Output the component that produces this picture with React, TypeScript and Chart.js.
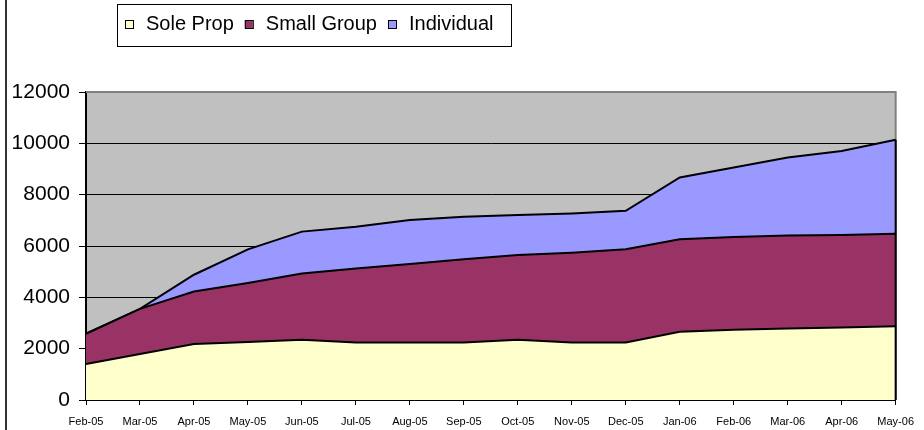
import React, { useEffect, useRef } from "react";
import { Chart, registerables } from "chart.js";

Chart.register(...registerables);

const months = [
  "Feb-05", "Mar-05", "Apr-05", "May-05", "Jun-05", "Jul-05", "Aug-05", "Sep-05",
  "Oct-05", "Nov-05", "Dec-05", "Jan-06", "Feb-06", "Mar-06", "Apr-06", "May-06",
];
const soleProp = [1400, 1790, 2180, 2260, 2350, 2240, 2240, 2240, 2350, 2240, 2240, 2660, 2740, 2790, 2820, 2870];
const smallGroup = [1180, 1760, 2050, 2300, 2580, 2880, 3060, 3240, 3300, 3500, 3630, 3600, 3610, 3620, 3610, 3610];
const individual = [0, 0, 650, 1310, 1630, 1630, 1710, 1660, 1560, 1530, 1500, 2410, 2710, 3040, 3270, 3660];
const yTickValues = [0, 2000, 4000, 6000, 8000, 10000, 12000];

const FONT = "Arial, 'Liberation Sans', sans-serif";

const plotPlugin = {
  id: "plotDecor",
  beforeDraw(chart: any) {
    const { ctx, chartArea } = chart;
    ctx.save();
    ctx.fillStyle = "#C0C0C0";
    ctx.fillRect(chartArea.left, chartArea.top, chartArea.right - chartArea.left, chartArea.bottom - chartArea.top);
    ctx.restore();
  },
  beforeDatasetsDraw(chart: any) {
    const { ctx, chartArea } = chart;
    ctx.save();
    ctx.strokeStyle = "#808080";
    ctx.lineWidth = 2;
    ctx.beginPath();
    ctx.moveTo(chartArea.left, chartArea.top);
    ctx.lineTo(chartArea.right, chartArea.top);
    ctx.lineTo(chartArea.right, chartArea.bottom);
    ctx.stroke();
    ctx.restore();
  },
  afterDatasetsDraw(chart: any) {
    const { ctx, chartArea, scales } = chart;
    const last = months.length - 1;
    const total = soleProp[last] + smallGroup[last] + individual[last];
    const x = scales.x.getPixelForValue(last);
    ctx.save();
    ctx.strokeStyle = "#000";
    ctx.lineWidth = 2;
    ctx.beginPath();
    ctx.moveTo(x, scales.y.getPixelForValue(total));
    ctx.lineTo(x, chartArea.bottom);
    ctx.stroke();
    ctx.restore();
  },
  afterDraw(chart: any) {
    const { ctx } = chart;
    ctx.save();
    ctx.fillStyle = "#333";
    ctx.fillRect(5, 0, 2, chart.height);
    ctx.strokeStyle = "#000";
    ctx.lineWidth = 1;
    ctx.strokeRect(117.5, 4.5, 394, 42);
    ctx.font = `20px ${FONT}`;
    ctx.textBaseline = "alphabetic";
    ctx.textAlign = "left";
    let x = 125;
    chart.data.datasets.forEach((ds: any) => {
      ctx.fillStyle = ds.backgroundColor;
      ctx.fillRect(x, 20, 8, 8);
      ctx.strokeStyle = "#000";
      ctx.lineWidth = 1;
      ctx.strokeRect(x + 0.5, 20.5, 8, 8);
      ctx.fillStyle = "#000";
      const tx = x + 21;
      ctx.fillText(ds.label, tx, 30);
      x = tx + ctx.measureText(ds.label).width + 11;
    });
    ctx.restore();
  },
};

export default function App() {
  const ref = useRef<HTMLCanvasElement | null>(null);
  useEffect(() => {
    if (!ref.current) return;
    const chart = new Chart(ref.current, {
      type: "line",
      data: {
        labels: months,
        datasets: [
          {
            label: "Sole Prop",
            data: soleProp,
            backgroundColor: "#FFFFCC",
            borderColor: "#000",
            borderWidth: 2,
            fill: "origin",
            pointRadius: 0,
            tension: 0,
          },
          {
            label: "Small Group",
            data: smallGroup,
            backgroundColor: "#993366",
            borderColor: "#000",
            borderWidth: 2,
            fill: "-1",
            pointRadius: 0,
            tension: 0,
          },
          {
            label: "Individual",
            data: individual,
            backgroundColor: "#9999FF",
            borderColor: "#000",
            borderWidth: 2,
            fill: "-1",
            pointRadius: 0,
            tension: 0,
          },
        ],
      },
      options: {
        responsive: false,
        animation: false,
        devicePixelRatio: 1,
        layout: { padding: { left: 0, right: 23, top: 92, bottom: 0 } },
        plugins: {
          legend: { display: false },
          tooltip: { enabled: false },
        },
        scales: {
          x: {
            offset: false,
            afterFit(scale: any) {
              scale.height = 30;
            },
            grid: {
              drawOnChartArea: false,
              drawTicks: true,
              tickLength: 5,
              color: "#000",
            },
            border: { color: "#000", width: 2 },
            ticks: {
              color: "#000",
              font: { family: FONT, size: 11 },
              padding: 10,
              maxRotation: 0,
              autoSkip: false,
            },
          },
          y: {
            stacked: true,
            min: 0,
            max: 12000,
            afterFit(scale: any) {
              scale.width = 86;
            },
            afterBuildTicks(scale: any) {
              scale.ticks = yTickValues.map((v) => ({ value: v }));
            },
            grid: {
              color: (c: any) => (c.tick && c.tick.value === 12000 ? "rgba(0,0,0,0)" : "#000"),
              tickColor: "#000",
              tickLength: 7,
              lineWidth: 1,
            },
            border: { color: "#000", width: 2 },
            ticks: {
              color: "#000",
              font: { family: FONT, size: 21 },
              padding: 9,
              callback: (v: any) => String(v),
            },
          },
        },
      },
      plugins: [plotPlugin],
    });
    return () => chart.destroy();
  }, []);
  return (
    <div style={{ position: "absolute", left: 0, top: 0, width: 924, height: 430, background: "#fff" }}>
      <canvas ref={ref} width={924} height={430} style={{ display: "block" }} />
    </div>
  );
}
